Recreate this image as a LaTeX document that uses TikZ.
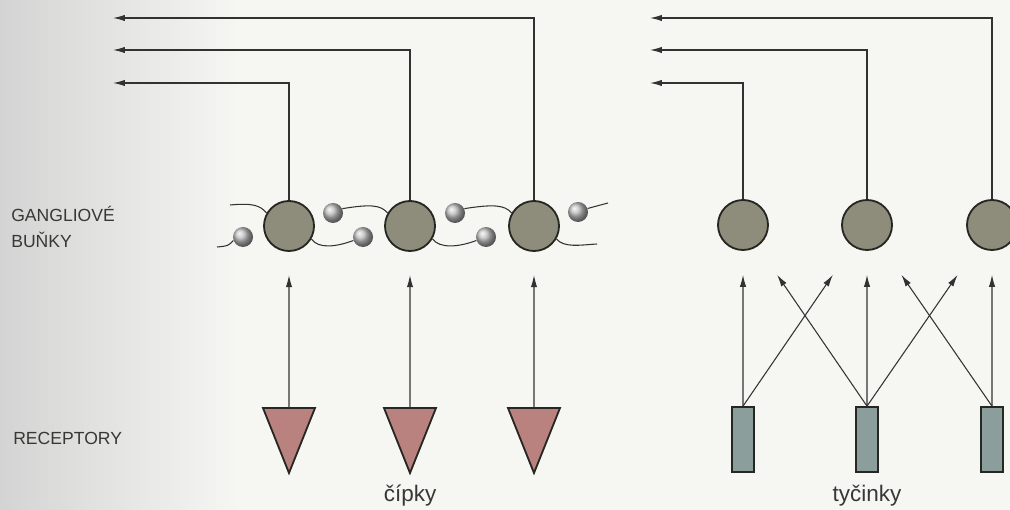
\documentclass[tikz,border=0pt]{standalone}
\usepackage{fontspec}
\setmainfont{Liberation Sans}
\usepackage{tikz}
\usetikzlibrary{arrows.meta, calc}
\usepackage{xcolor}
\definecolor{gangcol}{RGB}{142,140,122}
\definecolor{conecol}{RGB}{186,130,126}
\definecolor{rodcol}{RGB}{140,158,155}
\definecolor{obrys}{RGB}{38,38,34}
\definecolor{wirecol}{RGB}{50,50,48}
\definecolor{textcol}{RGB}{55,55,53}
\definecolor{papir}{RGB}{246,246,243}
\tikzset{
    gcell/.style={circle, draw=obrys, line width=1.3pt, fill=gangcol, minimum size=1.25cm, inner sep=0pt},
    smallcell/.style={circle, minimum size=0.5cm, inner sep=0pt, shading=ball, ball color=black!25},
    rod/.style={rectangle, draw=obrys, line width=1.2pt, fill=rodcol, minimum width=0.55cm, minimum height=1.625cm, inner sep=0pt},
    cone/.style={draw=obrys, line width=1.3pt, fill=conecol, line join=miter},
    fiber/.style={draw=wirecol, line width=0.75pt},
    signal/.style={draw=wirecol, line width=0.75pt, -{Latex[length=8.5pt,width=4.5pt]}},
    popis/.style={font=\fontsize{12.5}{19}\selectfont, text=textcol, align=left, anchor=west, inner sep=0pt},
    nazev/.style={font=\fontsize{16}{19}\selectfont, text=textcol, inner sep=0pt}
}
\begin{document}
\begin{tikzpicture}[x=0.025cm, y=-0.025cm]
    \useasboundingbox (0,0) rectangle (1010,510);
    \fill[papir] (0,0) rectangle (1010,510);
    \shade[left color=black!17, right color=papir] (0,0) rectangle (240,510);

    % fibres between the ganglion cells (drawn first)
    \coordinate (f1) at (217,247);
    \coordinate (f2) at (230,205);
    \coordinate (f3) at (597,244);
    \coordinate (f4) at (608,203);

    % ganglion cells
    \node[gcell] (gc1) at (289,226) {};
    \node[gcell] (gc2) at (410,226) {};
    \node[gcell] (gc3) at (534,226) {};
    \node[gcell] (gr1) at (743,225) {};
    \node[gcell] (gr2) at (867,225) {};
    \node[gcell] (gr3) at (992,225) {};

    % small cells
    \node[smallcell] (b1) at (243,237) {};
    \node[smallcell] (b2) at (333,213) {};
    \node[smallcell] (b3) at (363,237) {};
    \node[smallcell] (b4) at (455,213) {};
    \node[smallcell] (b5) at (486,237) {};
    \node[smallcell] (b6) at (578,212) {};

    \draw[fiber] (f1) .. controls (228,246) .. (b1.200);
    \draw[fiber] (f2) .. controls (252,203) and (260,205) .. (gc1.150);
    \draw[fiber] (gc1.-30) .. controls (318,249) and (336,247) .. (b3.200);
    \draw[fiber] (b2.25) .. controls (371,204) and (381,205) .. (gc2.150);
    \draw[fiber] (gc2.-30) .. controls (440,249) and (459,247) .. (b5.200);
    \draw[fiber] (b4.25) .. controls (494,204) and (505,205) .. (gc3.150);
    \draw[fiber] (gc3.-30) .. controls (564,248) and (580,245) .. (f3);
    \draw[fiber] (b6.20) .. controls (593,207) .. (f4);

    % cones
    \coordinate (c1) at (289,408);
    \coordinate (c2) at (410,408);
    \coordinate (c3) at (534,408);
    \draw[cone] (c1) ++(-26,0) -- ++(52,0) -- ++(-26,65) -- cycle;
    \draw[cone] (c2) ++(-26,0) -- ++(52,0) -- ++(-26,65) -- cycle;
    \draw[cone] (c3) ++(-26,0) -- ++(52,0) -- ++(-26,65) -- cycle;

    % rods
    \node[rod] (r1) at (743,439.5) {};
    \node[rod] (r2) at (867,439.5) {};
    \node[rod] (r3) at (992,439.5) {};

    % receptor -> ganglion
    \draw[signal] (c1) -- ($(c1)!0.73!(gc1)$);
    \draw[signal] (c2) -- ($(c2)!0.73!(gc2)$);
    \draw[signal] (c3) -- ($(c3)!0.73!(gc3)$);
    \draw[signal] (r1.north) -- ($(r1.north)!0.725!(gr1)$);
    \draw[signal] (r1.north) -- ($(r1.north)!0.725!(gr2)$);
    \draw[signal] (r2.north) -- ($(r2.north)!0.725!(gr1)$);
    \draw[signal] (r2.north) -- ($(r2.north)!0.725!(gr2)$);
    \draw[signal] (r2.north) -- ($(r2.north)!0.725!(gr3)$);
    \draw[signal] (r3.north) -- ($(r3.north)!0.725!(gr2)$);
    \draw[signal] (r3.north) -- ($(r3.north)!0.725!(gr3)$);

    % outputs
    \coordinate (o1) at (113,83);
    \coordinate (o2) at (113,50);
    \coordinate (o3) at (113,18);
    \coordinate (p1) at (650,83);
    \coordinate (p2) at (650,50);
    \coordinate (p3) at (650,18);
    \draw[signal] (gc1.north) |- (o1);
    \draw[signal] (gc2.north) |- (o2);
    \draw[signal] (gc3.north) |- (o3);
    \draw[signal] (gr1.north) |- (p1);
    \draw[signal] (gr2.north) |- (p2);
    \draw[signal] (gr3.north) |- (p3);

    % labels
    \node[popis] (gang) at (11,227) {GANGLIOVÉ\\BUŇKY};
    \node[popis] (rec) at (13,438) {RECEPTORY};
    \node[nazev] (cip) at (410,496) {čípky};
    \node[nazev] (tyc) at (867,496) {tyčinky};
\end{tikzpicture}
\end{document}
